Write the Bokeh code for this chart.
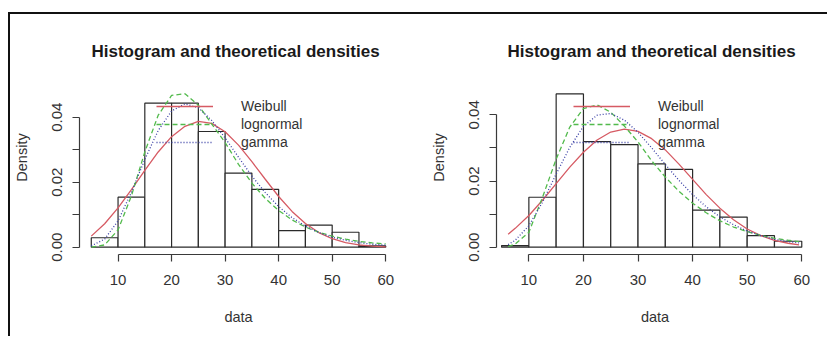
from bokeh.plotting import figure
from bokeh.models import FixedTicker, Legend, LegendItem, Range1d
from bokeh.layouts import row
from bokeh.embed import file_html
from bokeh.resources import INLINE

# ---------------- data ----------------
breaks = [5, 10, 15, 20, 25, 30, 35, 40, 45, 50, 55, 60]

dens_left = [0.0029, 0.0154, 0.0443, 0.0443, 0.0356, 0.0228, 0.0178,
             0.0051, 0.0068, 0.0046, 0.0004]
dens_right = [0.0005, 0.0151, 0.0463, 0.0319, 0.0310, 0.0252, 0.0235,
              0.0112, 0.0091, 0.0035, 0.0018]

x_left = [5, 7.5, 10, 12.5, 15, 17.5, 20, 22.5, 25, 27.5, 30, 32.5, 35,
          37.5, 40, 42.5, 45, 47.5, 50, 52.5, 55, 57.5, 60]
weibull_left = [0.0034, 0.0072, 0.0121, 0.0177, 0.0236, 0.0293, 0.0340,
                0.0372, 0.0387, 0.0381, 0.0355, 0.0314, 0.0263, 0.0209,
                0.0156, 0.0110, 0.0073, 0.0045, 0.0026, 0.0014, 0.0007,
                0.0003, 0.0001]
lnorm_left = [0.0000, 0.0007, 0.0053, 0.0158, 0.0293, 0.0406, 0.0467,
              0.0472, 0.0437, 0.0379, 0.0322, 0.0255, 0.0197, 0.0150,
              0.0113, 0.0084, 0.0062, 0.0046, 0.0034, 0.0025, 0.0018,
              0.0013, 0.0010]
gamma_left = [0.0004, 0.0025, 0.0081, 0.0169, 0.0270, 0.0359, 0.0419,
              0.0441, 0.0429, 0.0390, 0.0336, 0.0277, 0.0219, 0.0168,
              0.0125, 0.0091, 0.0065, 0.0045, 0.0031, 0.0021, 0.0014,
              0.0009, 0.0006]

x_right = [6.2, 7.5, 10, 12.5, 15, 17.5, 20, 22.5, 25, 27.5, 30, 32.5, 35,
           37.5, 40, 42.5, 45, 47.5, 50, 52.5, 55, 57.5, 59.5]
weibull_right = [0.0039, 0.0057, 0.0096, 0.0142, 0.0192, 0.0242, 0.0287,
                 0.0324, 0.0348, 0.0357, 0.0350, 0.0328, 0.0294, 0.0251,
                 0.0205, 0.0159, 0.0118, 0.0083, 0.0055, 0.0035, 0.0021,
                 0.0012, 0.0007]
lnorm_right = [0.0002, 0.0010, 0.0045, 0.0151, 0.0266, 0.0363, 0.0419,
               0.0430, 0.0408, 0.0366, 0.0318, 0.0261, 0.0212, 0.0169,
               0.0133, 0.0104, 0.0080, 0.0061, 0.0047, 0.0036, 0.0027,
               0.0021, 0.0017]
gamma_right = [0.0008, 0.0021, 0.0065, 0.0136, 0.0221, 0.0302, 0.0365,
               0.0399, 0.0404, 0.0384, 0.0347, 0.0300, 0.0250, 0.0202,
               0.0159, 0.0122, 0.0092, 0.0068, 0.0049, 0.0035, 0.0024,
               0.0017, 0.0013]

x_ticks = [10, 20, 30, 40, 50, 60]
y_ticks = [0, 0.01, 0.02, 0.03, 0.04]
y_tick_labels = ["0.00", "", "0.02", "", "0.04"]
legend_labels = ["Weibull", "lognormal", "gamma"]
title_text = "Histogram and theoretical densities"

FONT = "Liberation Sans"
COL_W, COL_L, COL_G = "#D65A63", "#52BA4C", "#3B40A6"
AX = "#3a3a3a"


def panel(dens, xs, wb, ln, gm, xr, yr, width, borders, title_off):
    left, right, top, bottom = borders
    p = figure(width=width, height=314, x_range=Range1d(*xr),
               y_range=Range1d(*yr), output_backend="svg",
               toolbar_location=None, min_border_left=left,
               min_border_right=right, min_border_top=top,
               min_border_bottom=bottom, title=title_text)
    p.outline_line_color = None
    p.xgrid.visible = False
    p.ygrid.visible = False
    p.background_fill_color = "white"
    p.border_fill_color = "white"

    p.title.align = "left"
    p.title.offset = title_off
    p.title.standoff = 0
    p.title.text_font = FONT
    p.title.text_font_style = "bold"
    p.title.text_font_size = "17px"
    p.title.text_color = "#1a1a1a"

    xa = p.xaxis[0]
    xa.ticker = FixedTicker(ticks=x_ticks)
    xa.bounds = (x_ticks[0], x_ticks[-1])
    xa.axis_label = "data"
    ya = p.yaxis[0]
    ya.ticker = FixedTicker(ticks=y_ticks)
    ya.bounds = (y_ticks[0], y_ticks[-1])
    ya.major_label_overrides = {t: s for t, s in zip(y_ticks, y_tick_labels)}
    ya.major_label_orientation = "vertical"
    ya.axis_label = "Density"
    for a in (xa, ya):
        a.axis_line_color = AX
        a.axis_line_width = 1.2
        a.major_tick_line_color = AX
        a.major_tick_line_width = 1.2
        a.major_tick_out = 7
        a.major_tick_in = 0
        a.minor_tick_out = 0
        a.minor_tick_in = 0
        a.major_label_text_font = FONT
        a.major_label_text_font_size = "15px"
        a.major_label_text_color = "#333333"
        a.axis_label_text_font = FONT
        a.axis_label_text_font_size = "14.5px"
        a.axis_label_text_font_style = "normal"
        a.axis_label_text_color = "#333333"
    xa.major_label_standoff = 13
    xa.axis_label_standoff = 21
    ya.major_label_standoff = 10
    ya.axis_label_standoff = 20

    p.quad(left=breaks[:-1], right=breaks[1:], bottom=0, top=dens,
           fill_color="white", line_color="#2a2a2a", line_width=1.2)
    r1 = p.line(xs, wb, color=COL_W, line_width=1.3)
    r2 = p.line(xs, ln, color=COL_L, line_width=1.3, line_dash="5 3")
    r3 = p.line(xs, gm, color=COL_G, line_width=1.3, line_dash="1 2")

    leg = Legend(items=[LegendItem(label=lab, renderers=[r])
                        for lab, r in zip(legend_labels, (r1, r2, r3))],
                 location=(77, 103), glyph_width=57, glyph_height=18,
                 label_height=18, label_standoff=28, spacing=0, padding=0,
                 margin=0, background_fill_alpha=0, border_line_color=None,
                 label_text_font=FONT, label_text_font_size="14px",
                 label_text_color="#333333")
    p.add_layout(leg)
    return p


p1 = panel(dens_left, x_left, weibull_left, lnorm_left, gamma_left,
           (2.8, 62.2), (-0.00225, 0.05744), 404, (69, 17, 46, 74), 12)
p2 = panel(dens_right, x_right, weibull_right, lnorm_right, gamma_right,
           (4.07, 62.15), (-0.0022, 0.05641), 407, (82, 8, 46, 74), 11)

layout = row(p1, p2, styles={"box-sizing": "content-box",
                             "margin-left": "8px",
                             "margin-top": "12px",
                             "padding-right": "6px",
                             "padding-bottom": "8px",
                             "border-top": "2px solid #111111",
                             "border-left": "2px solid #111111"})

open("out.html", "w").write(file_html(layout, INLINE))
